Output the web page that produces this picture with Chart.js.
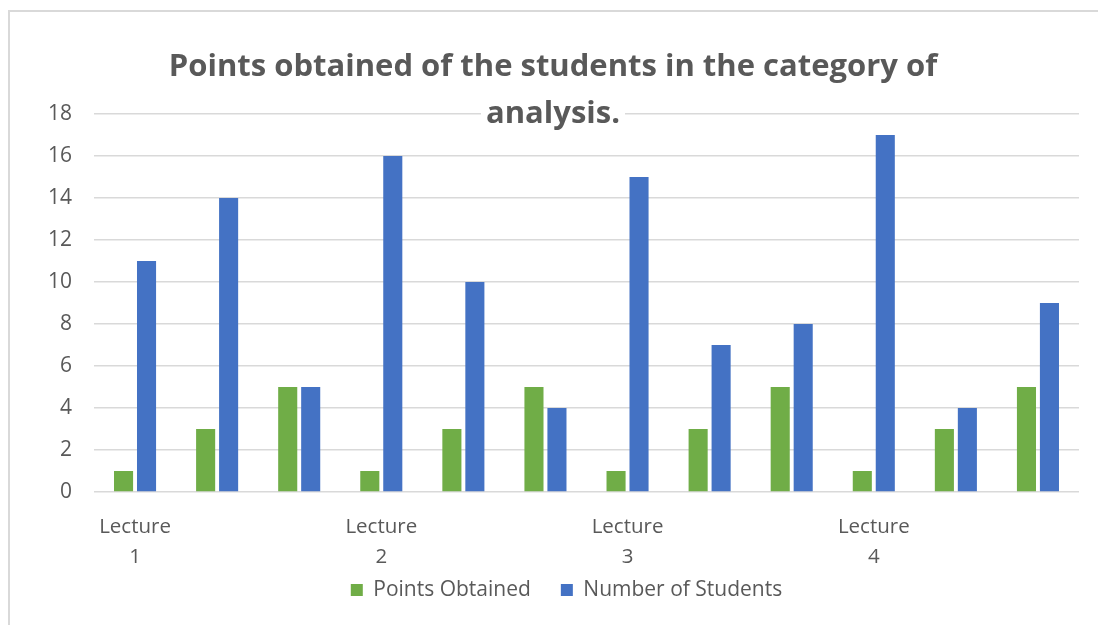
<!DOCTYPE html>
<html>
<head>
<meta charset="utf-8">
<script src="https://cdn.jsdelivr.net/npm/chart.js@4/dist/chart.umd.min.js"></script>
<style>
  html, body { margin: 0; padding: 0; background: #fff; }
  #wrap { position: relative; width: 1098px; height: 625px; overflow: hidden; }
  #frame { position: absolute; left: 8px; top: 10px; width: 1100px; height: 640px; border: 2px solid #d9d9d9; pointer-events: none; }
  canvas { position: absolute; left: 0; top: 0; }
</style>
</head>
<body>
<div id="wrap">
  <canvas id="myChart" width="1098" height="625"></canvas>
  <div id="frame"></div>
</div>
<script>
// chart data
const categories = ['Lecture 1', '', '', 'Lecture 2', '', '', 'Lecture 3', '', '', 'Lecture 4', '', ''];
const pointsObtained = [1, 3, 5, 1, 3, 5, 1, 3, 5, 1, 3, 5];
const numberOfStudents = [11, 14, 5, 16, 10, 4, 15, 7, 8, 17, 4, 9];
const yTicks = [0, 2, 4, 6, 8, 10, 12, 14, 16, 18];
const titleLines = ['Points obtained of the students in the category of', 'analysis.'];

const textColor = '#595959';
const fontFamily = '"Open Sans", Lato, sans-serif';

// title drawn with a white backing so the top gridline breaks behind it
const titlePlugin = {
  id: 'boxTitle',
  afterDraw(chart) {
    const ctx = chart.ctx;
    ctx.save();
    ctx.font = 'bold 31px ' + fontFamily;
    ctx.textAlign = 'center';
    ctx.textBaseline = 'middle';
    const cx = 553;
    titleLines.forEach((line, i) => {
      const y = 67 + i * 47;
      const w = ctx.measureText(line).width;
      ctx.fillStyle = '#fff';
      ctx.fillRect(cx - w / 2 - 5, y - 18, w + 10, 36);
      ctx.fillStyle = textColor;
      ctx.fillText(line, cx, y);
    });
    ctx.restore();
  }
};

// nudge the legend up under the axis labels (wide item gap needs big padding)
const legendShift = {
  id: 'legendShift',
  afterLayout(chart) {
    const lg = chart.legend;
    lg.top -= 22.5; lg.bottom -= 22.5;
    lg.left += 27; lg.right += 27;
  }
};

const ctx = document.getElementById('myChart');
new Chart(ctx, {
  type: 'bar',
  data: {
    labels: categories,
    datasets: [{
      label: 'Points Obtained',
      data: pointsObtained,
      backgroundColor: '#70AD47',
      borderWidth: 0,
      categoryPercentage: 0.56,
      barPercentage: 0.83
    }, {
      label: 'Number of Students',
      data: numberOfStudents,
      backgroundColor: '#4472C4',
      borderWidth: 0,
      categoryPercentage: 0.56,
      barPercentage: 0.83
    }]
  },
  options: {
    responsive: false,
    animation: false,
    devicePixelRatio: 1,
    layout: {
      padding: { top: 114, left: 0, right: 19, bottom: 0 }
    },
    plugins: {
      title: { display: false },
      tooltip: { enabled: false },
      legend: {
        position: 'bottom',
        maxHeight: 53,
        labels: {
          boxWidth: 12,
          boxHeight: 12,
          padding: 30,
          color: textColor,
          font: { family: fontFamily, size: 21 }
        }
      }
    },
    scales: {
      x: {
        grid: { display: false, drawTicks: false },
        border: { display: false },
        ticks: {
          autoSkip: false,
          maxRotation: 0,
          padding: 20,
          color: textColor,
          font: { family: fontFamily, size: 20.5, lineHeight: 1.47 },
          callback: function(value, index) {
            const label = categories[index];
            return label ? label.split(' ') : '';
          }
        },
        afterFit: function(scale) { scale.height = 80; }
      },
      y: {
        min: 0,
        max: 18,
        grid: { color: '#d9d9d9', lineWidth: 1.5, drawTicks: false },
        border: { display: false },
        afterBuildTicks: function(scale) {
          scale.ticks = yTicks.map(v => ({ value: v }));
        },
        ticks: {
          padding: 22,
          color: textColor,
          font: { family: fontFamily, size: 21 }
        },
        afterFit: function(scale) { scale.width = 94; }
      }
    }
  },
  plugins: [titlePlugin, legendShift]
});
</script>
</body>
</html>
